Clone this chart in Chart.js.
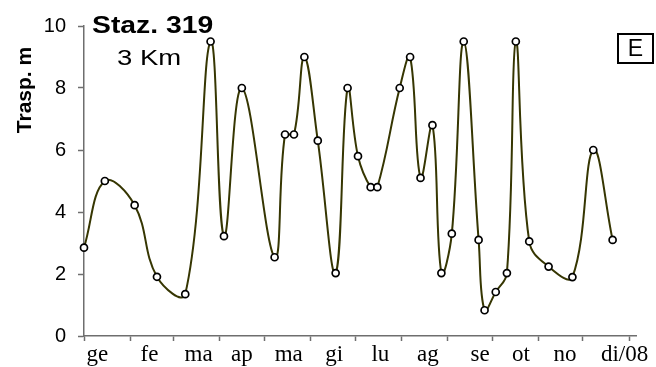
<!DOCTYPE html>
<html lang="it">
<head>
    <meta charset="UTF-8">
    <title>Staz. 319 - Trasparenza</title>
    <script src="https://cdn.jsdelivr.net/npm/chart.js@4.4.1/dist/chart.umd.min.js"></script>
    <style>
        * {
            margin: 0;
            padding: 0;
            box-sizing: border-box;
        }

        body {
            background: #fff;
            font-family: 'Liberation Sans', Arial, sans-serif;
        }

        .wrap {
            position: relative;
            width: 656px;
            height: 367px;
        }

        .note {
            position: absolute;
            white-space: nowrap;
            color: #000;
            line-height: 1;
        }

        .staz {
            left: 92px;
            top: 13px;
            font-size: 24px;
            font-weight: bold;
            transform: scaleX(1.18);
            transform-origin: left center;
        }

        .km {
            left: 117px;
            top: 47px;
            font-size: 22px;
            transform: scaleX(1.25);
            transform-origin: left center;
        }

        .ytitle {
            left: -35px;
            top: 78px;
            width: 120px;
            height: 24px;
            text-align: center;
            font-size: 21px;
            font-weight: bold;
            transform: rotate(-90deg);
        }

        .zone {
            left: 617px;
            top: 33px;
            width: 37px;
            height: 31px;
            border: 2px solid #000;
            font-size: 23px;
            display: flex;
            align-items: center;
            justify-content: center;
        }
    </style>
</head>
<body>
    <div class="wrap">
        <canvas id="chart" width="656" height="367"></canvas>
        <div class="note staz">Staz. 319</div>
        <div class="note km">3 Km</div>
        <div class="note ytitle">Trasp. m</div>
        <div class="note zone">E</div>
    </div>

    <script>
        // day of year (0 = 1 gennaio 2008) and transparency in metres
        const days = [0, 14, 34, 49, 68, 85, 94, 106, 128, 135, 141, 148, 157, 169, 177, 184, 192.5, 197,
                      212, 219, 226, 234, 240, 247, 255, 265, 269, 276.5, 284, 290, 299, 312, 328, 342, 355];
        const trasp = [2.85, 5.0, 4.22, 1.91, 1.35, 9.5, 3.22, 8.0, 2.54, 6.5, 6.5, 9.0, 6.3, 2.03, 8.0, 5.8, 4.8, 4.8,
                       8.0, 9.0, 5.1, 6.8, 2.03, 3.3, 9.5, 3.1, 0.83, 1.42, 2.03, 9.5, 3.05, 2.24, 1.9, 6.0, 3.1];

        // month boundaries and month labels
        const monthStarts = [0, 31, 60, 91, 121, 152, 182, 213, 244, 274, 305, 335, 366];
        const monthLabels = ['ge', 'fe', 'ma', 'ap', 'ma', 'gi', 'lu', 'ag', 'se', 'ot', 'no', 'di/08'];
        const labelDays = [9, 44, 77, 106, 137.5, 168, 199, 231, 266, 293.5, 323, 363];

        const yTicks = [0, 2, 4, 6, 8, 10];

        const axisGray = '#6e6e6e';
        const labelAt = {};
        labelDays.forEach((d, i) => { labelAt[d] = monthLabels[i]; });
        const isBoundary = v => monthStarts.includes(v);

        new Chart(document.getElementById('chart'), {
            type: 'line',
            data: {
                datasets: [{
                    data: days.map((d, i) => ({ x: d, y: trasp[i] })),
                    borderColor: '#363602',
                    borderWidth: 2,
                    tension: 0.4,
                    pointRadius: 3.5,
                    pointBorderWidth: 1.7,
                    pointBorderColor: '#000',
                    pointBackgroundColor: '#fff',
                    clip: false
                }]
            },
            options: {
                responsive: false,
                devicePixelRatio: 1,
                animation: false,
                layout: { padding: { top: 26, right: 20, left: 0, bottom: 0 } },
                plugins: {
                    legend: { display: false },
                    tooltip: { enabled: false }
                },
                scales: {
                    x: {
                        type: 'linear',
                        min: 0,
                        max: 370.7,
                        afterFit: s => { s.height = 31; },
                        afterBuildTicks: s => {
                            s.ticks = monthStarts.concat(labelDays)
                                .sort((a, b) => a - b)
                                .map(v => ({ value: v }));
                        },
                        border: { color: axisGray, width: 1.5 },
                        grid: {
                            drawOnChartArea: false,
                            tickLength: 5,
                            tickWidth: 1.5,
                            tickColor: c => (c.tick && isBoundary(c.tick.value)) ? axisGray : 'rgba(0,0,0,0)'
                        },
                        ticks: {
                            autoSkip: false,
                            maxRotation: 0,
                            minRotation: 0,
                            padding: 0,
                            color: '#000',
                            font: { family: "'Liberation Serif', 'Times New Roman', serif", size: 23 },
                            callback: v => labelAt[v] || ''
                        }
                    },
                    y: {
                        min: 0,
                        max: 10,
                        afterFit: s => { s.width = 84; },
                        afterBuildTicks: s => { s.ticks = yTicks.map(v => ({ value: v })); },
                        border: { color: axisGray, width: 1.5 },
                        grid: {
                            drawOnChartArea: false,
                            tickLength: 6,
                            tickWidth: 1.5,
                            tickColor: axisGray
                        },
                        ticks: {
                            padding: 12,
                            color: '#000',
                            font: { family: "'Liberation Sans', Arial, sans-serif", size: 20 }
                        }
                    }
                }
            }
        });
    </script>
</body>
</html>
